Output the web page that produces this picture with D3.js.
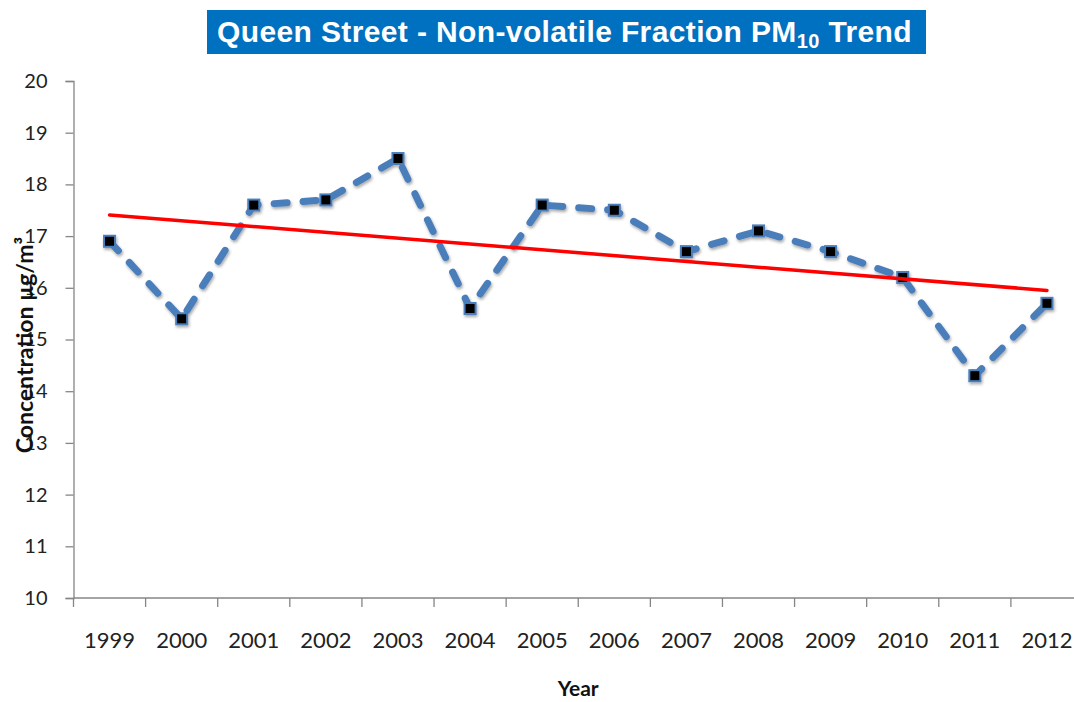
<!DOCTYPE html>
<html>
<head>
<meta charset="utf-8">
<script src="https://cdn.jsdelivr.net/npm/d3@7"></script>
<style>
  body { margin: 0; background: #fff; }
  svg { display: block; }
</style>
</head>
<body>
<svg id="chart" width="1074" height="702"></svg>
<script>
// chart data
var years = ['1999','2000','2001','2002','2003','2004','2005','2006','2007','2008','2009','2010','2011','2012'];
var concentration = [16.9, 15.4, 17.6, 17.7, 18.5, 15.6, 17.6, 17.5, 16.7, 17.1, 16.7, 16.2, 14.3, 15.7];
var yTicks = [10, 11, 12, 13, 14, 15, 16, 17, 18, 19, 20];

var svg = d3.select('#chart');
var margin = { top: 81, left: 73.5, right: 0, bottom: 104 };
var width = 1074, height = 702;
var innerWidth = width - margin.left - margin.right;
var innerHeight = height - margin.top - margin.bottom;

var data = years.map(function (y, i) { return { year: y, value: concentration[i] }; });

// the category band runs a little past the page edge, as in the original
var xScale = d3.scaleBand().domain(years).range([0, innerWidth + 9]);
var yScale = d3.scaleLinear().domain([10, 20]).range([innerHeight, 0]);
var cx = function (d) { return xScale(d.year) + xScale.bandwidth() / 2; };

// least squares trend through the yearly values
var n = concentration.length;
var mx = (n - 1) / 2;
var my = d3.mean(concentration);
var sxy = d3.sum(concentration, function (v, i) { return (i - mx) * (v - my); });
var sxx = d3.sum(concentration, function (v, i) { return (i - mx) * (i - mx); });
var slope = sxy / sxx;
var trend = [0, n - 1].map(function (i) { return { year: years[i], value: my + slope * (i - mx) }; });

var defs = svg.append('defs');
var f = defs.append('filter').attr('id', 'shadow')
    .attr('x', '-20%').attr('y', '-20%').attr('width', '140%').attr('height', '140%');
f.append('feDropShadow').attr('dx', 1).attr('dy', 2).attr('stdDeviation', 1.5)
    .attr('flood-color', '#000').attr('flood-opacity', 0.35);

var g = svg.append('g').attr('transform', 'translate(' + margin.left + ',' + margin.top + ')');

// axes
var yAxis = d3.axisLeft(yScale).tickValues(yTicks).tickSize(8).tickPadding(18);
var gy = g.append('g').call(yAxis);
gy.select('.domain').attr('stroke', '#868686').attr('stroke-width', 1.3);
gy.selectAll('.tick line').attr('stroke', '#868686').attr('stroke-width', 1.3);
gy.selectAll('.tick text').style('font-family', 'Lato, sans-serif').style('font-size', '20px').attr('fill', '#222');

var xAxis = d3.axisBottom(xScale).tickSize(0).tickPadding(34);
var gx = g.append('g').attr('transform', 'translate(0,' + innerHeight + ')').call(xAxis);
gx.select('.domain').remove();
gx.selectAll('.tick text').style('font-family', 'Lato, sans-serif').style('font-size', '22px').attr('fill', '#222');

// baseline drawn up to the page edge
g.append('line')
    .attr('x1', 0).attr('x2', innerWidth)
    .attr('y1', innerHeight).attr('y2', innerHeight)
    .attr('stroke', '#868686').attr('stroke-width', 1.3);

// category boundary ticks
g.append('g').selectAll('line')
    .data(years)
    .enter().append('line')
    .attr('x1', function (d) { return xScale(d); })
    .attr('x2', function (d) { return xScale(d); })
    .attr('y1', innerHeight)
    .attr('y2', innerHeight + 9)
    .attr('stroke', '#868686').attr('stroke-width', 1.3);

var line = d3.line().x(cx).y(function (d) { return yScale(d.value); });

// data series
var series = g.append('g').attr('filter', 'url(#shadow)');
series.append('path')
    .datum(data)
    .attr('d', line)
    .attr('fill', 'none')
    .attr('stroke', '#4a7ebb')
    .attr('stroke-width', 7)
    .attr('stroke-linecap', 'round')
    .attr('stroke-linejoin', 'round')
    .attr('stroke-dasharray', '13,16');

series.selectAll('rect')
    .data(data)
    .enter().append('rect')
    .attr('x', function (d) { return cx(d) - 5.5; })
    .attr('y', function (d) { return yScale(d.value) - 5.5; })
    .attr('width', 11)
    .attr('height', 11)
    .attr('fill', '#000')
    .attr('stroke', '#4a7ebb')
    .attr('stroke-width', 2);

// trend line
g.append('path')
    .datum(trend)
    .attr('d', line)
    .attr('fill', 'none')
    .attr('stroke', '#ff0000')
    .attr('stroke-width', 3.5)
    .attr('stroke-linecap', 'round');

// axis titles
svg.append('text')
    .attr('transform', 'translate(33,345) rotate(-90)')
    .attr('text-anchor', 'middle')
    .style('font-family', 'Lato, sans-serif')
    .style('font-weight', 'bold')
    .style('font-size', '23px')
    .attr('fill', '#111')
    .text('Concentration µg/m³');

svg.append('text')
    .attr('x', margin.left + (innerWidth + 9) / 2)
    .attr('y', 696)
    .attr('text-anchor', 'middle')
    .style('font-family', 'Lato, sans-serif')
    .style('font-weight', 'bold')
    .style('font-size', '21px')
    .attr('fill', '#111')
    .text('Year');

// title box
svg.append('rect')
    .attr('x', 207).attr('y', 10)
    .attr('width', 719).attr('height', 44)
    .attr('fill', '#0070c0');

var title = svg.append('text')
    .attr('x', 217)
    .attr('y', 42)
    .style('font-family', 'Liberation Sans, Arial, sans-serif')
    .style('font-weight', 'bold')
    .style('font-size', '30px')
    .attr('fill', '#fff');
title.append('tspan').text('Queen Street - Non-volatile Fraction PM');
title.append('tspan').attr('dy', 6).style('font-size', '20px').text('10');
title.append('tspan').attr('dy', -6).text(' Trend');

// adjust letter spacing so the title spans the box like the original
var tw = title.node().getComputedTextLength();
var nChars = title.text().length;
title.style('letter-spacing', ((695 - tw) / nChars) + 'px');
</script>
</body>
</html>
